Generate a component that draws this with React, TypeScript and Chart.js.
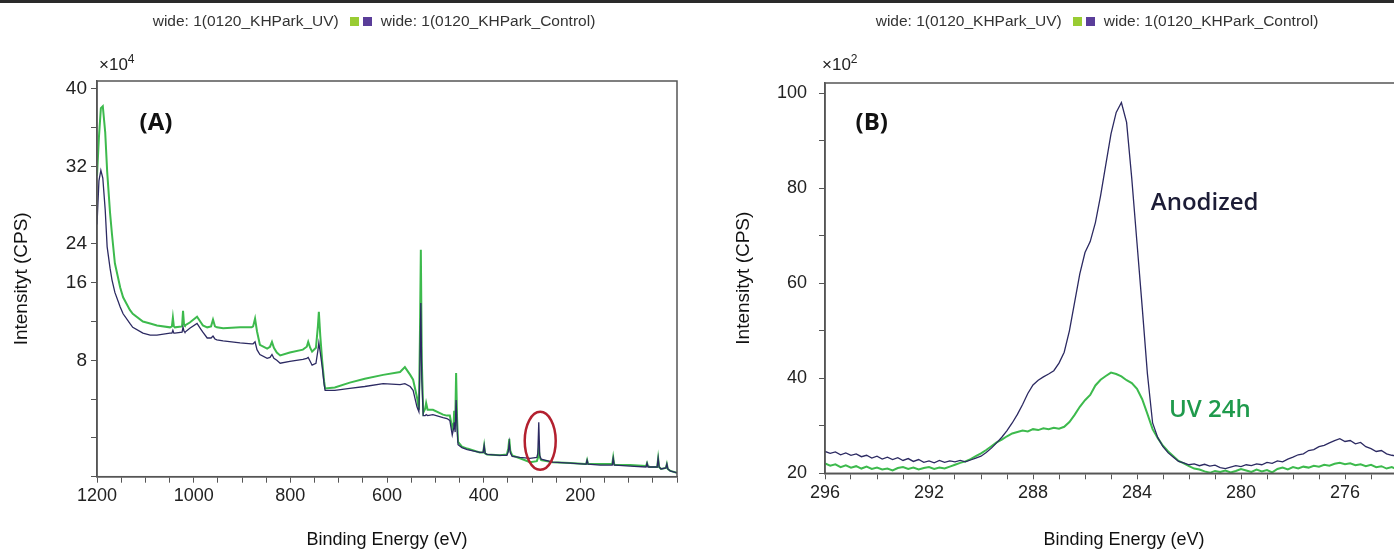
import React, { useEffect, useRef } from "react";
import { Chart, registerables } from "chart.js";

Chart.register(...registerables);

// ---------- legend ----------
const legendLabels = ["wide: 1(0120_KHPark_UV)", "wide: 1(0120_KHPark_Control)"];
const legendColors = ["#99cc33", "#5a3d99"];

// ---------- panel A: survey spectrum (x10^4 CPS) ----------
const energyA = [
  1200, 1196, 1192, 1188, 1183, 1179, 1173, 1169, 1163, 1152,
  1146, 1132, 1126, 1105, 1090, 1076, 1049, 1045, 1043, 1041,
  1039, 1024, 1022, 1020, 1018, 1008, 993, 985, 981, 972,
  964, 960, 956, 952, 939, 904, 880, 877, 873, 869,
  863, 848, 842, 838, 834, 828, 821, 801, 774, 766,
  763, 759, 755, 747, 743, 741, 738, 734, 730, 728,
  708, 677, 646, 608, 573, 563, 552, 546, 538, 534,
  532, 530, 528, 525, 521, 519, 516, 505, 484, 476,
  470, 465, 462, 461, 459, 457, 455, 453, 445, 434,
  408, 401, 399, 397, 393, 366, 352, 349, 347, 345,
  341, 325, 304, 290, 288, 286, 284, 281, 257, 221,
  190, 188, 186, 184, 159, 134, 132, 130, 128, 97,
  64, 62, 60, 56, 41, 39, 37, 33, 23, 21,
  19, 14, 0,
];
const controlA = [
  26.0, 30.5, 31.6, 30.8, 27.5, 23.7, 21.5, 20.3, 19.0, 17.5,
  16.8, 15.8, 15.4, 14.8, 14.6, 14.6, 14.8, 14.8, 15.1, 14.8,
  14.8, 14.9, 15.4, 15.0, 14.9, 15.3, 15.8, 15.2, 14.9, 14.3,
  14.3, 14.5, 14.2, 14.1, 14.0, 13.8, 13.7, 13.7, 13.9, 13.1,
  12.6, 12.2, 12.3, 12.6, 12.2, 12.0, 11.7, 11.9, 12.1, 12.2,
  12.3, 11.9, 11.5, 11.7, 13.0, 13.8, 12.8, 11.3, 9.5, 8.9,
  8.9, 9.1, 9.3, 9.6, 9.5, 9.6, 9.3, 8.9, 7.2, 6.7,
  11.0, 17.9, 10.0, 6.3, 6.3, 6.4, 6.3, 6.4, 6.1, 6.0,
  5.8, 4.3, 5.0, 5.6, 4.6, 7.9, 5.0, 3.3, 3.0, 2.8,
  2.5, 2.5, 3.2, 2.4, 2.3, 2.2, 2.2, 2.6, 3.5, 2.5,
  2.1, 2.0, 1.9, 2.0, 2.4, 5.6, 2.2, 1.8, 1.5, 1.4,
  1.3, 1.3, 1.7, 1.3, 1.2, 1.2, 1.9, 1.2, 1.2, 1.1,
  1.0, 1.4, 1.0, 1.0, 1.0, 1.9, 1.0, 0.8, 0.9, 1.3,
  0.8, 0.6, 0.4,
];
const uvA = [
  31.0, 35.0, 38.0, 38.2, 35.5, 31.5, 27.2, 25.0, 22.0, 19.5,
  18.5, 17.2, 16.8, 16.0, 15.8, 15.6, 15.4, 15.5, 16.4, 15.5,
  15.4, 15.5, 17.1, 15.7, 15.6, 15.9, 16.5, 15.9, 15.6, 15.4,
  15.5, 16.2, 15.5, 15.4, 15.3, 15.4, 15.4, 15.5, 16.3, 15.0,
  13.6, 13.2, 13.4, 13.9, 13.3, 12.8, 12.5, 12.8, 13.1, 13.4,
  13.9, 13.3, 12.9, 13.3, 15.5, 17.0, 14.5, 11.9, 9.8, 9.1,
  9.2, 9.7, 10.1, 10.5, 10.8, 11.3, 10.5, 10.0, 8.2, 6.9,
  14.0, 23.4, 12.0, 6.6, 7.0, 7.6, 6.9, 6.9, 6.4, 6.3,
  6.3, 5.0, 5.6, 6.8, 5.2, 10.7, 6.0, 3.6, 3.1, 2.9,
  2.5, 2.5, 3.2, 2.4, 2.3, 2.2, 2.3, 2.9, 3.9, 2.7,
  2.2, 1.9, 1.5, 1.6, 1.9, 2.8, 2.0, 1.7, 1.5, 1.4,
  1.3, 1.3, 1.7, 1.3, 1.3, 1.3, 2.0, 1.3, 1.2, 1.2,
  1.1, 1.4, 1.1, 1.0, 1.0, 1.9, 1.0, 0.8, 0.9, 1.3,
  0.8, 0.6, 0.4,
];
const xLabelsA = [1200, 1000, 800, 600, 400, 200];
const yTickValuesA = [0, 4, 8, 12, 16, 20, 24, 28, 32, 36, 40];
// tick value -> printed label, as printed on the reference axis
const yTickTextA: Record<number, string> = { 40: "40", 32: "32", 24: "24", 20: "16", 12: "8" };
const highlightPeakA = { x: 283, y: 3.7 };

// ---------- panel B: C 1s region (x10^2 CPS) ----------
const energyB = [
  296.0, 295.8, 295.6, 295.4, 295.2, 295.0, 294.8, 294.6, 294.4, 294.2,
  294.0, 293.8, 293.6, 293.4, 293.2, 293.0, 292.8, 292.6, 292.4, 292.2,
  292.0, 291.8, 291.6, 291.4, 291.2, 291.0, 290.8, 290.6, 290.4, 290.2,
  290.0, 289.8, 289.6, 289.4, 289.2, 289.0, 288.8, 288.6, 288.4, 288.2,
  288.0, 287.8, 287.6, 287.4, 287.2, 287.0, 286.8, 286.6, 286.4, 286.2,
  286.0, 285.8, 285.6, 285.4, 285.2, 285.0, 284.8, 284.6, 284.4, 284.2,
  284.0, 283.8, 283.6, 283.4, 283.2, 283.0, 282.8, 282.6, 282.4, 282.2,
  282.0, 281.8, 281.6, 281.4, 281.2, 281.0, 280.8, 280.6, 280.4, 280.2,
  280.0, 279.8, 279.6, 279.4, 279.2, 279.0, 278.8, 278.6, 278.4, 278.2,
  278.0, 277.8, 277.6, 277.4, 277.2, 277.0, 276.8, 276.6, 276.4, 276.2,
  276.0, 275.8, 275.6, 275.4, 275.2, 275.0, 274.8, 274.6, 274.4, 274.2,
  274.0, 273.8, 273.4, 273.0,
];
const controlB = [
  24.6, 24.2, 24.5, 23.9, 24.3, 23.8, 24.1, 23.5, 23.8, 23.2,
  23.6, 23.0, 23.4, 22.9, 23.3, 22.7, 23.1, 22.5, 22.9, 22.3,
  22.6, 22.2, 22.7, 22.3, 22.6, 22.4, 22.7, 22.4, 22.8, 23.2,
  23.6, 24.4, 25.3, 26.4, 27.6, 29.0, 30.6, 32.4, 34.5, 36.8,
  38.6, 39.6, 40.3, 40.9, 41.6, 43.2, 45.5, 50.0, 56.0, 62.0,
  66.5, 68.8, 72.8, 78.5, 85.0, 91.5, 96.0, 98.1, 93.9, 82.0,
  68.5, 55.0, 41.0, 30.6, 27.5, 25.6, 24.3, 23.4, 22.5, 22.2,
  21.8, 22.0, 21.6, 21.9, 21.5, 21.7, 21.2, 21.0, 21.3, 21.6,
  21.4, 21.8, 21.6, 22.0, 21.8, 22.3, 22.1, 22.6, 22.4, 23.0,
  23.4, 23.9, 24.1, 24.8, 25.0, 25.6, 25.9, 26.4, 26.9, 27.3,
  26.7, 26.9, 26.2, 26.5, 25.6, 25.2, 24.6, 24.8, 24.1, 23.8,
  23.6, 23.4, 23.2, 23.0,
];
const uvB = [
  22.1, 21.6, 21.9, 21.3, 21.7, 21.2, 21.5, 21.0, 21.4, 20.9,
  21.2, 20.8, 21.0, 20.6, 21.1, 21.3, 20.9, 21.2, 20.8, 21.1,
  21.3, 20.9, 21.2, 21.0, 21.4, 21.8, 22.2, 22.5, 23.0, 23.6,
  24.2, 24.9, 25.7, 26.5, 27.1, 27.8, 28.4, 28.7, 29.0, 28.8,
  29.3, 29.1, 29.5, 29.3, 29.6, 29.4, 29.8, 30.8, 32.3, 34.0,
  35.4, 36.5, 38.5, 39.7, 40.5, 41.2, 40.9, 40.4, 39.6, 39.0,
  37.8, 35.6, 32.5, 29.3, 27.4, 25.8, 24.6, 23.6, 22.6, 22.1,
  21.5, 21.0, 20.8, 20.4, 20.1, 20.5, 20.3, 20.6, 20.2, 20.5,
  20.9, 20.6, 20.3, 20.8, 20.4, 20.7, 20.2, 20.9, 21.2, 20.8,
  21.3, 21.0, 21.4, 21.2, 21.6, 21.4, 21.8, 21.6, 22.0, 22.2,
  21.9, 22.1, 21.7, 21.9, 21.5, 21.8, 21.3, 21.5, 21.0, 21.3,
  20.8, 21.0, 20.8, 20.9,
];
const xLabelsB = [296, 292, 288, 284, 280, 276];
const yLabelsB = [100, 80, 60, 40, 20];

// ---------- styling ----------
const SANS = "'Liberation Sans', Arial, sans-serif";
const ANNOT = "'Open Sans', 'Noto Sans', sans-serif";
const GREEN = "#3dba4d";
const NAVY = "#2c2a62";
const AXIS = "#555555";
const TEXT = "#222222";

const framePlugin = {
  id: "frame",
  afterDraw(chart: any) {
    const { ctx, chartArea } = chart;
    ctx.save();
    ctx.strokeStyle = AXIS;
    ctx.lineWidth = 1.5;
    ctx.strokeRect(chartArea.left, chartArea.top, chartArea.right - chartArea.left, chartArea.bottom - chartArea.top);
    ctx.restore();
  },
};

type Note = { text: string; x: number; y: number; font: string; color: string };

function notesPlugin(notes: Note[], ellipse?: { x: number; y: number }) {
  return {
    id: "notes",
    afterDatasetsDraw(chart: any) {
      const { ctx } = chart;
      const xs = chart.scales.x;
      const ys = chart.scales.y;
      ctx.save();
      if (ellipse) {
        ctx.beginPath();
        ctx.ellipse(xs.getPixelForValue(ellipse.x), ys.getPixelForValue(ellipse.y), 15.5, 29, 0, 0, Math.PI * 2);
        ctx.strokeStyle = "#b3202f";
        ctx.lineWidth = 2.5;
        ctx.stroke();
      }
      ctx.textAlign = "center";
      ctx.textBaseline = "middle";
      for (const n of notes) {
        ctx.font = n.font;
        ctx.fillStyle = n.color;
        ctx.fillText(n.text, xs.getPixelForValue(n.x), ys.getPixelForValue(n.y));
      }
      ctx.restore();
    },
  };
}

function gridOpts() {
  return { drawOnChartArea: false, drawTicks: true, tickLength: 6, color: AXIS, lineWidth: 1 };
}

function makeDatasets(energy: number[], uv: number[], control: number[]) {
  return [
    {
      label: legendLabels[0],
      data: energy.map((e, i) => ({ x: e, y: uv[i] })),
      borderColor: GREEN,
      borderWidth: 2,
      pointRadius: 0,
      tension: 0,
      order: 1,
    },
    {
      label: legendLabels[1],
      data: energy.map((e, i) => ({ x: e, y: control[i] })),
      borderColor: NAVY,
      borderWidth: 1.3,
      pointRadius: 0,
      tension: 0,
      order: 0,
    },
  ];
}

function xTitle() {
  return {
    display: true,
    text: "Binding Energy (eV)",
    color: "#111",
    font: { family: SANS, size: 18, lineHeight: 1 },
    padding: { top: 0, bottom: 1 },
  };
}

function yTitle(padTop: number) {
  return {
    display: true,
    text: "Intensityt (CPS)",
    color: "#111",
    font: { family: SANS, size: 19 },
    padding: { top: padTop, bottom: 0 },
  };
}

function configA(): any {
  return {
    type: "line",
    data: { datasets: makeDatasets(energyA, uvA, controlA) },
    options: {
      animation: false,
      responsive: true,
      maintainAspectRatio: false,
      layout: { padding: { top: 81, right: 23, bottom: 0, left: 0 } },
      plugins: { legend: { display: false }, tooltip: { enabled: false } },
      scales: {
        x: {
          type: "linear",
          reverse: true,
          min: 0,
          max: 1200,
          afterFit: (s: any) => { s.height = 73.3; },
          ticks: {
            stepSize: 50,
            autoSkip: false,
            maxRotation: 0,
            padding: 3,
            color: TEXT,
            font: { family: SANS, size: 18 },
            callback: (v: number) => (xLabelsA.includes(v) ? String(v) : ""),
          },
          grid: gridOpts(),
          border: { color: AXIS, width: 1.5 },
          title: xTitle(),
        },
        y: {
          type: "linear",
          min: 0,
          max: 40.8,
          afterFit: (s: any) => { s.width = 97; },
          afterBuildTicks: (s: any) => { s.ticks = yTickValuesA.map((v) => ({ value: v })); },
          ticks: {
            padding: 4,
            color: TEXT,
            font: { family: SANS, size: 19 },
            callback: (v: number) => yTickTextA[v] ?? "",
          },
          grid: gridOpts(),
          border: { color: AXIS, width: 1.5 },
          title: yTitle(10),
        },
      },
    },
    plugins: [
      framePlugin,
      notesPlugin(
        [{ text: "(A)", x: 1078, y: 36.5, font: `bold 24px ${ANNOT}`, color: "#111" }],
        highlightPeakA
      ),
    ],
  };
}

function configB(): any {
  return {
    type: "line",
    data: { datasets: makeDatasets(energyB, uvB, controlB) },
    options: {
      animation: false,
      responsive: true,
      maintainAspectRatio: false,
      layout: { padding: { top: 83, right: 22, bottom: 0, left: 0 } },
      plugins: { legend: { display: false }, tooltip: { enabled: false } },
      scales: {
        x: {
          type: "linear",
          reverse: true,
          min: 273,
          max: 296,
          afterFit: (s: any) => { s.height = 76.7; },
          ticks: {
            stepSize: 1,
            autoSkip: false,
            maxRotation: 0,
            padding: 3,
            color: TEXT,
            font: { family: SANS, size: 18 },
            callback: (v: number) => (xLabelsB.includes(v) ? String(v) : ""),
          },
          grid: gridOpts(),
          border: { color: AXIS, width: 1.5 },
          title: xTitle(),
        },
        y: {
          type: "linear",
          min: 20,
          max: 102.2,
          afterFit: (s: any) => { s.width = 125; },
          ticks: {
            stepSize: 10,
            includeBounds: false,
            padding: 12,
            color: TEXT,
            font: { family: SANS, size: 18 },
            callback: (v: number) => (yLabelsB.includes(v) ? String(v) : ""),
          },
          grid: gridOpts(),
          border: { color: AXIS, width: 1.5 },
          title: yTitle(32),
        },
      },
    },
    plugins: [
      framePlugin,
      notesPlugin([
        { text: "(B)", x: 294.2, y: 93.7, font: `bold 24px ${ANNOT}`, color: "#111" },
        { text: "Anodized", x: 281.4, y: 76.8, font: `600 24px ${ANNOT}`, color: "#1c1c36" },
        { text: "UV 24h", x: 281.2, y: 33.4, font: `600 24px ${ANNOT}`, color: "#1f9a4c" },
      ]),
    ],
  };
}

function ChartBox(props: { left: number; width: number; make: () => any }) {
  const ref = useRef<HTMLCanvasElement | null>(null);
  useEffect(() => {
    const chart = new Chart(ref.current as HTMLCanvasElement, props.make());
    return () => chart.destroy();
  }, []);
  return (
    <div style={{ position: "absolute", left: props.left, top: 0, width: props.width, height: 550 }}>
      <canvas ref={ref} />
    </div>
  );
}

function Legend(props: { center: number }) {
  const box = (c: string) => (
    <span style={{ display: "inline-block", width: 9, height: 9, background: c, margin: "0 2px", verticalAlign: "middle" }} />
  );
  return (
    <div
      style={{
        position: "absolute",
        left: props.center - 400,
        width: 800,
        top: 10,
        textAlign: "center",
        whiteSpace: "nowrap",
        font: `15.5px ${SANS}`,
        color: "#333",
        lineHeight: "22px",
      }}
    >
      <span>{legendLabels[0]}</span>
      <span style={{ marginLeft: 9, marginRight: 7 }}>
        {box(legendColors[0])}
        {box(legendColors[1])}
      </span>
      <span>{legendLabels[1]}</span>
    </div>
  );
}

function Multiplier(props: { left: number; exp: string }) {
  return (
    <div style={{ position: "absolute", left: props.left, top: 52, font: `17px ${SANS}`, color: TEXT, whiteSpace: "nowrap" }}>
      ×10<sup style={{ fontSize: 12 }}>{props.exp}</sup>
    </div>
  );
}

export default function App() {
  return (
    <div style={{ position: "fixed", left: 0, top: 0, width: 1394, height: 550, overflow: "hidden", background: "#fff" }}>
      <div style={{ position: "absolute", left: 0, top: 0, width: 1394, height: 3, background: "#2a2a2a" }} />
      <ChartBox left={0} width={700} make={configA} />
      <ChartBox left={700} width={745} make={configB} />
      <Legend center={374} />
      <Legend center={1097} />
      <Multiplier left={99} exp="4" />
      <Multiplier left={822} exp="2" />
    </div>
  );
}
